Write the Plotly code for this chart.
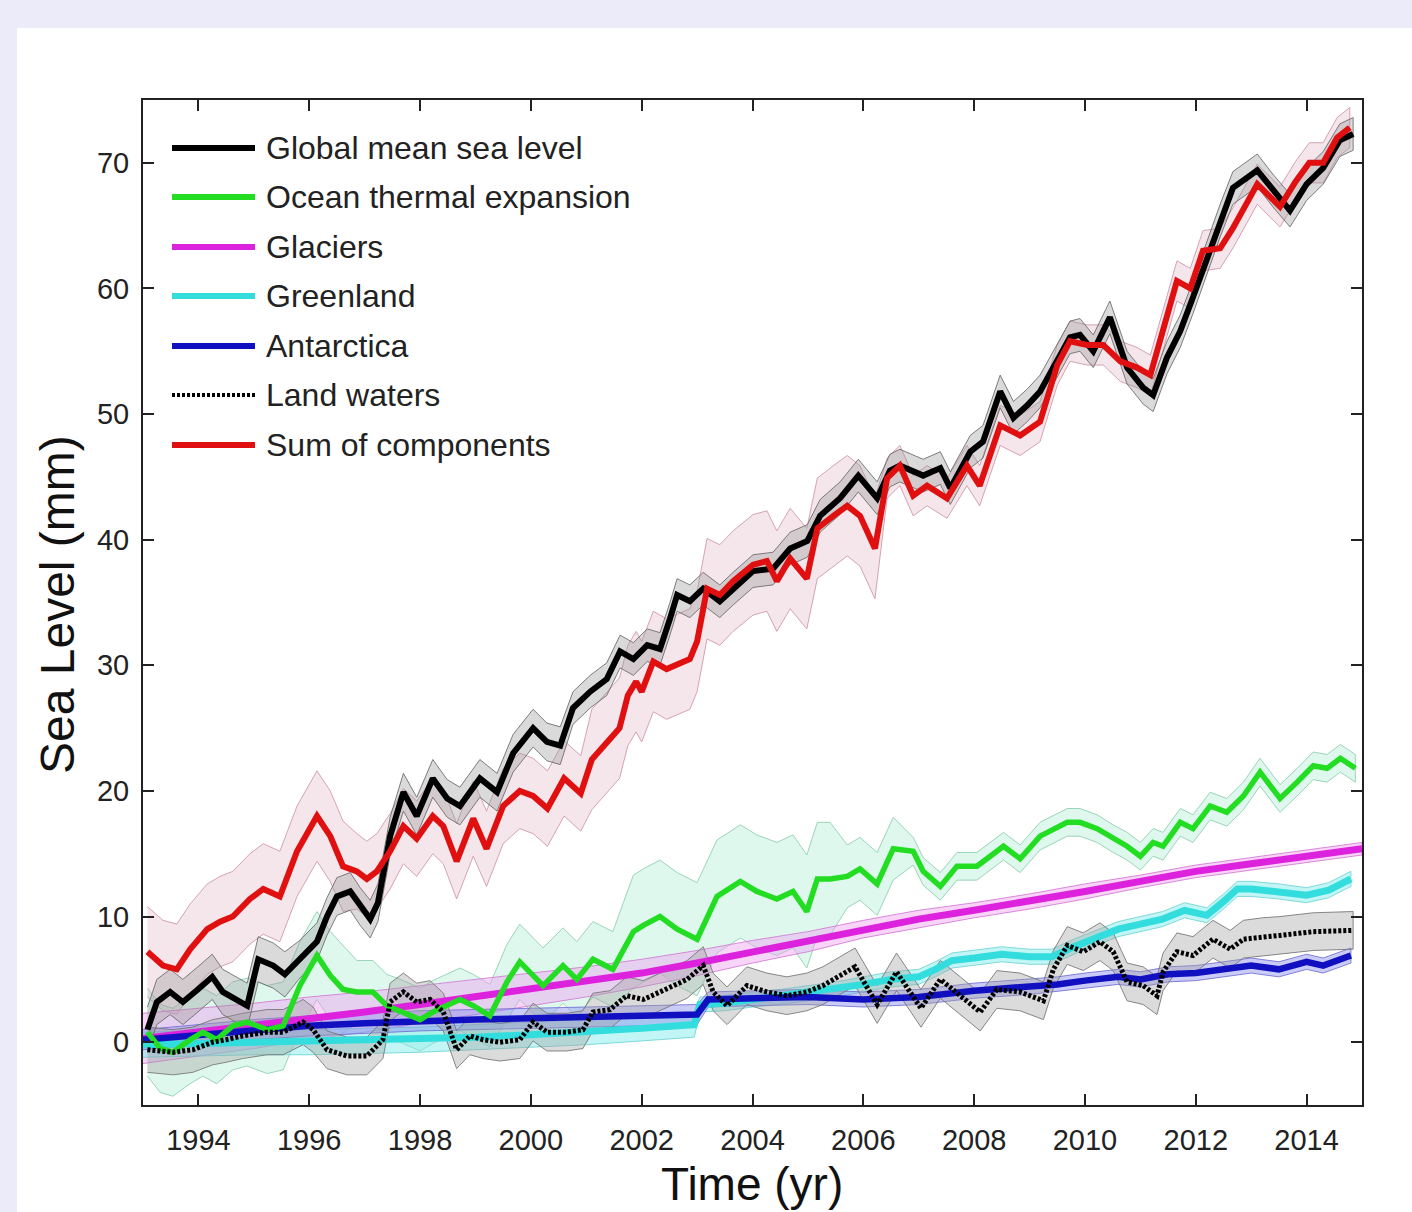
import plotly.graph_objects as go

# ---------------- data (mm) ----------------
gmsl_t = [1993.08, 1993.25, 1993.49, 1993.72, 1993.99, 1994.25, 1994.44, 1994.75, 1994.88, 1995.08,
          1995.35, 1995.56, 1995.83, 1996.14, 1996.32, 1996.5, 1996.74, 1996.92, 1997.1, 1997.24,
          1997.46, 1997.7, 1997.94, 1998.23, 1998.49, 1998.72, 1999.08, 1999.39, 1999.68, 2000.04,
          2000.29, 2000.53, 2000.76, 2001.07, 2001.37, 2001.61, 2001.85, 2002.1, 2002.33, 2002.51,
          2002.64, 2002.87, 2003.11, 2003.41, 2003.65, 2004.01, 2004.37, 2004.68, 2004.99, 2005.22,
          2005.58, 2005.91, 2006.25, 2006.48, 2006.66, 2007.08, 2007.39, 2007.57, 2007.93, 2008.16,
          2008.47, 2008.71, 2008.96, 2009.19, 2009.43, 2009.73, 2009.91, 2010.15, 2010.45, 2010.76,
          2011.05, 2011.23, 2011.48, 2011.72, 2011.95, 2012.2, 2012.44, 2012.67, 2013.11, 2013.39,
          2013.7, 2014.0, 2014.3, 2014.6, 2014.84]
gmsl_v = [1.0, 3.2, 4.0, 3.2, 4.2, 5.2, 4.0, 3.2, 2.9, 6.6,
          6.1, 5.4, 6.6, 8.0, 10.0, 11.6, 12.0, 10.8, 9.8, 11.1,
          16.4, 19.9, 18.0, 21.0, 19.4, 18.8, 21.0, 19.9, 23.0, 25.0,
          23.9, 23.6, 26.6, 27.9, 28.9, 31.1, 30.5, 31.6, 31.3, 33.7,
          35.6, 35.1, 36.1, 35.1, 36.1, 37.5, 37.7, 39.3, 39.9, 41.9,
          43.3, 45.1, 43.3, 45.5, 45.9, 45.1, 45.7, 44.1, 47.0, 47.8,
          51.8, 49.7, 50.7, 51.8, 53.7, 56.1, 56.3, 55.0, 57.7, 53.7,
          52.1, 51.5, 54.5, 56.6, 59.3, 62.4, 65.4, 68.0, 69.4, 67.8,
          66.2, 68.3, 69.6, 71.8, 72.3]
gmsl_err = [1.8] * 12 + [1.5] * 20 + [1.3] * 53

sum_t = [1993.08, 1993.36, 1993.61, 1993.85, 1994.16, 1994.39, 1994.62, 1994.93, 1995.17, 1995.47,
         1995.78, 1996.14, 1996.38, 1996.61, 1996.86, 1997.04, 1997.22, 1997.46, 1997.7, 1997.94,
         1998.23, 1998.42, 1998.66, 1998.96, 1999.2, 1999.5, 1999.8, 2000.04, 2000.3, 2000.6,
         2000.9, 2001.1, 2001.4, 2001.6, 2001.75, 2001.9, 2002.0, 2002.21, 2002.45, 2002.87,
         2003.0, 2003.18, 2003.41, 2003.65, 2004.01, 2004.26, 2004.44, 2004.68, 2004.98, 2005.17,
         2005.46, 2005.71, 2005.94, 2006.21, 2006.43, 2006.66, 2006.9, 2007.15, 2007.51, 2007.87,
         2008.1, 2008.47, 2008.83, 2009.19, 2009.5, 2009.73, 2010.04, 2010.33, 2010.64, 2010.94,
         2011.18, 2011.41, 2011.66, 2011.9, 2012.13, 2012.44, 2012.67, 2013.11, 2013.52, 2013.8,
         2014.05, 2014.3, 2014.55, 2014.78]
sum_v = [7.2, 6.1, 5.8, 7.4, 9.0, 9.6, 10.0, 11.4, 12.2, 11.6,
         15.2, 18.0, 16.4, 14.0, 13.6, 13.0, 13.6, 15.2, 17.2, 16.2,
         18.0, 17.2, 14.4, 17.8, 15.4, 18.8, 20.0, 19.6, 18.6, 21.0,
         19.8, 22.5, 24.0, 25.0, 27.6, 28.7, 27.9, 30.3, 29.7, 30.5,
         31.9, 36.1, 35.6, 36.7, 38.0, 38.3, 36.7, 38.5, 36.9, 40.9,
         41.9, 42.7, 41.9, 39.3, 44.9, 45.9, 43.5, 44.3, 43.3, 45.9,
         44.3, 49.1, 48.3, 49.4, 53.9, 55.8, 55.5, 55.5, 54.2, 53.7,
         53.1, 56.6, 60.6, 60.0, 63.0, 63.2, 64.8, 68.3, 66.5, 68.5,
         70.0, 70.0, 72.0, 72.8]
sum_err = [3.6] * 14 + [3.0] * 17 + [4.0] * 23 + [1.6] * 30

steric_t = [1993.08, 1993.31, 1993.54, 1993.85, 1994.08, 1994.33, 1994.62, 1994.88, 1995.24, 1995.53,
            1995.83, 1996.14, 1996.38, 1996.61, 1996.86, 1997.15, 1997.4, 1997.7, 1998.0, 1998.23,
            1998.49, 1998.72, 1998.96, 1999.26, 1999.57, 1999.8, 2000.22, 2000.58, 2000.83, 2001.12,
            2001.48, 2001.85, 2002.03, 2002.33, 2002.64, 2003.0, 2003.36, 2003.78, 2004.08, 2004.44,
            2004.73, 2004.98, 2005.17, 2005.4, 2005.71, 2005.94, 2006.25, 2006.54, 2006.9, 2007.08,
            2007.39, 2007.69, 2008.05, 2008.53, 2008.83, 2009.19, 2009.68, 2009.91, 2010.22, 2010.51,
            2010.76, 2011.0, 2011.23, 2011.41, 2011.72, 2011.95, 2012.26, 2012.56, 2012.86, 2013.16,
            2013.52, 2013.83, 2014.12, 2014.37, 2014.61, 2014.88]
steric_v = [0.8, -0.5, -0.8, 0.2, 0.8, 0.2, 1.3, 1.6, 1.0, 1.3,
            4.5, 6.9, 5.3, 4.2, 4.0, 4.0, 2.9, 2.4, 1.8, 2.4,
            2.9, 3.4, 2.9, 2.1, 4.8, 6.4, 4.5, 6.1, 5.0, 6.6,
            5.8, 8.8, 9.3, 10.0, 9.0, 8.2, 11.6, 12.8, 12.0, 11.4,
            12.0, 10.4, 13.0, 13.0, 13.2, 13.8, 12.6, 15.4, 15.2, 13.6,
            12.4, 14.0, 14.0, 15.6, 14.6, 16.4, 17.5, 17.5, 17.0, 16.2,
            15.6, 14.8, 15.9, 15.6, 17.5, 17.0, 18.8, 18.3, 19.6, 21.5,
            19.4, 20.7, 22.0, 21.8, 22.6, 21.8]
steric_err = [3.5] * 14 + [2.5] * 10 + [3.0] * 7 + [4.5] * 13 + [2.5] * 4 + [1.1] * 28

glac_t = [1993, 1994, 1995, 1996, 1997, 1998, 1999, 2000, 2001, 2002, 2003, 2004,
          2005, 2006, 2007, 2008, 2009, 2010, 2011, 2012, 2013, 2014, 2015]
glac_v = [0.3, 0.8, 1.3, 1.9, 2.4, 3.0, 3.6, 4.2, 4.8, 5.5, 6.3, 7.2,
          8.0, 9.0, 9.8, 10.5, 11.2, 12.0, 12.8, 13.6, 14.2, 14.8, 15.4]
glac_err = [2.0, 1.9, 1.8, 1.7, 1.6, 1.5, 1.4, 1.3, 1.2, 1.1, 1.0, 0.9,
            0.8, 0.7, 0.7, 0.6, 0.6, 0.6, 0.5, 0.5, 0.5, 0.5, 0.5]

grl_t = [1993.0, 1994.0, 1995.0, 1996.0, 1997.0, 1998.0, 1999.0, 2000.0, 2001.0, 2002.0,
         2002.95, 2003.05, 2003.5, 2004.0, 2004.5, 2005.0, 2005.5, 2006.0, 2006.5, 2007.0,
         2007.3, 2007.6, 2008.0, 2008.5, 2009.0, 2009.4, 2009.8, 2010.2, 2010.6, 2011.0,
         2011.4, 2011.8, 2012.2, 2012.5, 2012.75, 2013.0, 2013.5, 2014.0, 2014.4, 2014.8]
grl_v = [-0.2, -0.1, 0.0, 0.0, 0.1, 0.2, 0.4, 0.6, 0.8, 1.1,
         1.4, 3.0, 3.1, 3.4, 3.6, 3.9, 4.2, 4.6, 5.0, 5.2,
         5.8, 6.5, 6.7, 7.0, 6.8, 6.8, 7.6, 8.3, 9.0, 9.4,
         9.8, 10.5, 10.1, 11.2, 12.2, 12.2, 12.0, 11.7, 12.1, 13.0]
grl_err = [1.0] * 11 + [0.6] * 29

ant_t = [1993.0, 1994.0, 1995.0, 1996.0, 1997.0, 1998.0, 1999.0, 2000.0, 2001.0, 2002.0,
         2003.0, 2003.2, 2004.0, 2005.0, 2006.0, 2007.0, 2008.0, 2009.0, 2009.5, 2010.0,
         2010.6, 2011.0, 2011.5, 2012.0, 2012.5, 2013.0, 2013.5, 2014.0, 2014.3, 2014.8]
ant_v = [0.2, 0.6, 1.0, 1.3, 1.5, 1.7, 1.8, 1.9, 2.0, 2.1,
         2.2, 3.4, 3.5, 3.6, 3.4, 3.6, 4.1, 4.4, 4.6, 4.9,
         5.2, 5.0, 5.4, 5.5, 5.8, 6.1, 5.8, 6.4, 6.1, 6.9]
ant_err = [0.8] * 11 + [0.6] * 19

lw_t = [1993.08, 1993.54, 1993.9, 1994.26, 1994.5, 1994.8, 1995.24, 1995.53, 1995.89, 1996.07,
        1996.32, 1996.68, 1997.04, 1997.33, 1997.46, 1997.7, 1997.94, 1998.18, 1998.42, 1998.66,
        1998.9, 1999.14, 1999.44, 1999.8, 2000.04, 2000.29, 2000.65, 2000.94, 2001.12, 2001.43,
        2001.73, 2002.03, 2002.33, 2002.57, 2002.82, 2003.11, 2003.29, 2003.54, 2003.9, 2004.26,
        2004.62, 2004.98, 2005.27, 2005.58, 2005.85, 2006.25, 2006.6, 2007.04, 2007.39, 2007.75,
        2008.11, 2008.41, 2008.83, 2009.25, 2009.43, 2009.68, 2009.97, 2010.27, 2010.51, 2010.76,
        2011.05, 2011.3, 2011.41, 2011.66, 2011.95, 2012.31, 2012.62, 2012.86, 2013.2, 2013.52,
        2014.12, 2014.84]
lw_v = [-0.6, -0.8, -0.6, 0.0, 0.2, 0.5, 0.8, 0.8, 1.6, 1.0,
        -0.6, -1.1, -1.1, 0.2, 3.2, 4.0, 3.2, 3.4, 2.4, -0.6,
        0.5, 0.2, 0.0, 0.2, 1.6, 0.8, 0.8, 1.0, 2.4, 2.6,
        3.7, 3.4, 4.0, 4.5, 5.0, 6.1, 4.0, 2.9, 4.5, 4.0,
        3.7, 4.0, 4.5, 5.3, 6.0, 3.0, 5.6, 2.7, 5.0, 3.7,
        2.4, 4.2, 4.0, 3.3, 5.8, 7.7, 7.2, 8.0, 7.2, 4.8,
        4.5, 3.7, 5.6, 7.2, 6.9, 8.2, 7.4, 8.2, 8.4, 8.5,
        8.8, 8.9]
lw_err = [1.8] * 10 + [1.5] * 62

labels = ["Global mean sea level", "Ocean thermal expansion", "Glaciers", "Greenland",
          "Antarctica", "Land waters", "Sum of components"]

# ---------------- styling ----------------
FONT = "Liberation Sans, Arial, Helvetica, sans-serif"
styles = {
    "Global mean sea level": dict(color="#000000", width=6, dash="solid",
                                  fill="rgba(150,150,150,0.35)", edge="rgba(105,105,105,0.85)"),
    "Ocean thermal expansion": dict(color="#22dd22", width=5.5, dash="solid",
                                    fill="rgba(140,230,195,0.28)", edge="rgba(140,205,175,0.85)"),
    "Glaciers": dict(color="#dd22dd", width=7, dash="solid",
                     fill="rgba(240,160,240,0.45)", edge="rgba(210,120,210,0.85)"),
    "Greenland": dict(color="#33dddd", width=7, dash="solid",
                      fill="rgba(120,235,235,0.45)", edge="rgba(110,210,210,0.85)"),
    "Antarctica": dict(color="#1010c0", width=6.5, dash="solid",
                       fill="rgba(140,140,240,0.45)", edge="rgba(110,110,210,0.85)"),
    "Land waters": dict(color="#000000", width=5, dash="3px,2px",
                        fill="rgba(160,160,160,0.38)", edge="rgba(115,115,115,0.85)"),
    "Sum of components": dict(color="#e01010", width=6, dash="solid",
                              fill="rgba(210,140,165,0.22)", edge="rgba(200,135,160,0.75)"),
}

series = {
    "Global mean sea level": (gmsl_t, gmsl_v, gmsl_err),
    "Ocean thermal expansion": (steric_t, steric_v, steric_err),
    "Glaciers": (glac_t, glac_v, glac_err),
    "Greenland": (grl_t, grl_v, grl_err),
    "Antarctica": (ant_t, ant_v, ant_err),
    "Land waters": (lw_t, lw_v, lw_err),
    "Sum of components": (sum_t, sum_v, sum_err),
}

fig = go.Figure()

# uncertainty envelopes first
band_order = ["Ocean thermal expansion", "Sum of components", "Glaciers", "Greenland",
              "Antarctica", "Land waters", "Global mean sea level"]
for name in band_order:
    t, v, e = series[name]
    st = styles[name]
    hi = [a + b for a, b in zip(v, e)]
    lo = [a - b for a, b in zip(v, e)]
    fig.add_trace(go.Scatter(
        x=list(t) + list(t)[::-1], y=hi + lo[::-1],
        mode="lines", fill="toself", fillcolor=st["fill"],
        line=dict(color=st["edge"], width=1), hoverinfo="skip", showlegend=False))

# central curves
line_order = ["Glaciers", "Greenland", "Antarctica", "Ocean thermal expansion",
              "Land waters", "Global mean sea level", "Sum of components"]
for name in line_order:
    t, v, _ = series[name]
    st = styles[name]
    fig.add_trace(go.Scatter(
        x=t, y=v, mode="lines", name=name,
        line=dict(color=st["color"], width=st["width"], dash=st["dash"]),
        showlegend=False))

# ---------------- legend (drawn in paper space) ----------------
L, T, H, W = 143, 100, 1005, 1219  # plot area in pixels


def px(xp):
    return (xp - L) / W


def py(yp):
    return (T + H - yp) / H


shapes = [
    # white card behind the axes
    dict(type="rect", xref="paper", yref="paper", x0=px(17), x1=px(1420),
         y0=py(1220), y1=py(28), fillcolor="white", line=dict(width=0), layer="below"),
]
annotations = []
row_y = [148, 197, 247, 296, 346, 395, 445]
for name, yy in zip(labels, row_y):
    st = styles[name]
    shapes.append(dict(type="line", xref="paper", yref="paper",
                       x0=px(172), x1=px(255), y0=py(yy), y1=py(yy),
                       line=dict(color=st["color"], width=6 if name != "Land waters" else 4,
                                 dash=st["dash"] if name == "Land waters" else "solid")))
    annotations.append(dict(xref="paper", yref="paper", x=px(264), y=py(yy),
                            xanchor="left", yanchor="middle", text=name, showarrow=False,
                            font=dict(family=FONT, size=32, color="#222222")))

# axis titles
annotations.append(dict(xref="paper", yref="paper", x=px(752), y=py(1184),
                        xanchor="center", yanchor="middle", text="Time (yr)", showarrow=False,
                        font=dict(family=FONT, size=46, color="#111111")))
annotations.append(dict(xref="paper", yref="paper", x=px(57), y=py(605),
                        xanchor="center", yanchor="middle", text="Sea Level (mm)",
                        textangle=-90, showarrow=False,
                        font=dict(family=FONT, size=48, color="#111111")))

axis_common = dict(showgrid=False, zeroline=False, showline=True, linecolor="#222222",
                   linewidth=2, mirror="ticks", ticks="inside", ticklen=11, tickwidth=2,
                   tickcolor="#222222", tickfont=dict(family=FONT, size=29, color="#222222"))

fig.update_layout(
    width=1412, height=1212,
    margin=dict(l=L, r=1412 - L - W, t=T, b=1212 - T - H),
    paper_bgcolor="#ebebfa", plot_bgcolor="white",
    showlegend=False,
    xaxis=dict(range=[1993, 2015], tickvals=list(range(1994, 2015, 2)),
               ticklabelstandoff=8, **axis_common),
    yaxis=dict(range=[-5, 75], tickvals=list(range(0, 71, 10)),
               ticklabelstandoff=6, **axis_common),
    shapes=shapes, annotations=annotations,
)

fig.write_html("out.html")
